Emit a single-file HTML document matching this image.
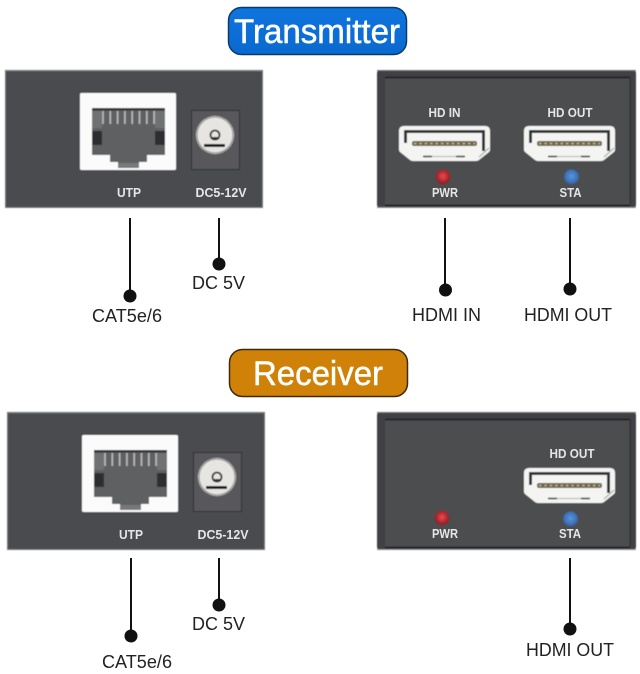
<!DOCTYPE html>
<html lang="en">
<head>
<meta charset="utf-8">
<title>Transmitter and Receiver</title>
<style>
html,body{margin:0;padding:0;background:#fff;width:640px;height:674px;overflow:hidden}
svg{display:block}
text{font-family:"Liberation Sans",sans-serif}
.lab{font-size:18px;fill:#222}
.sm{font-size:12.500px;font-weight:bold;fill:#e6e6e6;text-anchor:middle}
.ln{stroke:#111;stroke-width:2}
.pt{stroke:#fff;stroke-width:.5}
</style>
</head>
<body>
<svg width="640" height="674" viewBox="0 0 640 674" xmlns="http://www.w3.org/2000/svg">
<defs>
<filter id="soft" x="-2%" y="-2%" width="104%" height="104%"><feGaussianBlur stdDeviation=".45"/></filter>
<linearGradient id="pill1" x1="0" y1="0" x2="0" y2="1"><stop offset="0" stop-color="#0f75de"/><stop offset="1" stop-color="#0a69cf"/></linearGradient>
<radialGradient id="red" cx=".5" cy=".45" r=".6"><stop offset="0" stop-color="#e05058"/><stop offset=".6" stop-color="#b3262c"/><stop offset="1" stop-color="#5d2a2c"/></radialGradient>
<radialGradient id="blue" cx=".5" cy=".45" r=".6"><stop offset="0" stop-color="#5b95dc"/><stop offset=".7" stop-color="#3a70b8"/><stop offset="1" stop-color="#3a5068"/></radialGradient>

<g id="hdmi">
  <path d="M5 0H86Q91 0 91 5V24Q91 25 90 26L80 34Q79 35 77 35H14Q12 35 11 34L1 26Q0 25 0 24V5Q0 0 5 0Z" fill="#f4f4f2"/>
  <path d="M5 4H86V25H83V7H8V17H5Z" fill="#2f3032"/>
  <rect x="13" y="15" width="65" height="5" rx="2" fill="#6d6650"/>
  <path d="M15 17.500H76" stroke="#c9bd94" stroke-width="1.400" stroke-dasharray="2.400 3"/>
  <path d="M24 30.500H33M57 30.500H66" stroke="#333" stroke-width="1.500"/>
  <path d="M33 30.500H57" stroke="#999" stroke-width=".7"/>
  <path d="M80 31L90 22" stroke="#9a9a9a" stroke-width="1"/>
</g>

<g id="front">
  <rect x="5" y="70" width="258" height="138" rx="1.500" fill="#4a4c4f"/>
  <path d="M5 70.500H263" stroke="#85888b" stroke-width="1.200"/>
  <path d="M5.500 70V208M262.500 70V208M5 207.500H263" stroke="#777a7d" stroke-width="1"/>
  <rect x="80" y="93" width="96" height="77" rx="1.500" fill="#fbfbfb"/>
  <path d="M92 108H165V155H147V162H139V168H118V162H110V155H92Z" fill="#5f6062"/>
  <path d="M92 108H165V110.500H92Z" fill="#333436"/>
  <path d="M92 111H102V128H92Z M155 111H165V128H155Z" fill="#707173"/>
  <path d="M103 111V124M110.300 111V124M117.600 111V124M124.900 111V124M132.200 111V124M139.500 111V124M146.800 111V124M154.100 111V124" stroke="#b9b9b9" stroke-width="1.700"/>
  <path d="M92 131H102V145H92Z M155 131H165V145H155Z" fill="#2d2e30"/>
  <rect x="118" y="163" width="21" height="5" fill="#77787a"/>
  <rect x="191" y="110" width="49" height="60" fill="#59595b"/>
  <path d="M191 110.500H240M239.500 110V170M191 169.500H240M191.500 110V170" stroke="#2d2e30" stroke-width="1"/>
  <circle cx="215" cy="135" r="19" fill="#e6e5e2"/>
  <circle cx="215" cy="135" r="18" fill="none" stroke="#88888a" stroke-width="1"/>
  <circle cx="215" cy="135" r="4.500" fill="none" stroke="#333" stroke-width="1.800"/>
  <rect x="211" y="137" width="8" height="2.500" fill="#333"/>
  <rect x="204" y="144" width="21" height="3" fill="#1c1c1c"/>
</g>

<g id="back">
  <rect x="377" y="70" width="259" height="138" rx="3" fill="#3f4144"/>
  <rect x="385" y="77" width="245" height="128" fill="#4b4d50"/>
  <path d="M385 77.500H630" stroke="#1d1e20" stroke-width="1.500"/>
  <path d="M385 205.500H630" stroke="#1d1e20" stroke-width="1.500"/>
  <path d="M630 77V205" stroke="#2a2b2d" stroke-width="1"/>
  <path d="M377 207.500H636" stroke="#8a8c8e" stroke-width="1"/>
  <path d="M377 70.500H636" stroke="#717376" stroke-width="1"/>
</g>
</defs>

<rect width="640" height="674" fill="#fff"/>

<!-- Transmitter -->
<rect x="228.500" y="7.500" width="178" height="47" rx="13" fill="url(#pill1)" stroke="#0d3a6b" stroke-width="1.500"/>
<text class="pt" x="234" y="43" font-size="34" fill="#fff" textLength="166" lengthAdjust="spacingAndGlyphs">Transmitter</text>

<g filter="url(#soft)">
<use href="#front"/>
<use href="#back"/>
<use href="#hdmi" x="399" y="126"/>
<use href="#hdmi" x="524" y="126"/>
<circle cx="443" cy="177" r="7.500" fill="url(#red)"/>
<circle cx="571.500" cy="177" r="7.500" fill="url(#blue)"/>
</g>
<text class="sm" x="129" y="197" textLength="24" lengthAdjust="spacingAndGlyphs">UTP</text>
<text class="sm" x="221" y="197" textLength="51" lengthAdjust="spacingAndGlyphs">DC5-12V</text>
<text class="sm" x="444.500" y="117" textLength="32" lengthAdjust="spacingAndGlyphs">HD IN</text>
<text class="sm" x="570" y="117" textLength="45" lengthAdjust="spacingAndGlyphs">HD OUT</text>
<text class="sm" x="445" y="197" textLength="26" lengthAdjust="spacingAndGlyphs">PWR</text>
<text class="sm" x="570.500" y="197" textLength="22" lengthAdjust="spacingAndGlyphs">STA</text>

<path class="ln" d="M130 218V296M219 218V264M445 218V290M570 218V289"/>
<circle cx="130" cy="296" r="6.500" fill="#111"/>
<circle cx="219" cy="264" r="6.500" fill="#111"/>
<circle cx="445.500" cy="290" r="6.500" fill="#111"/>
<circle cx="570" cy="289" r="6.500" fill="#111"/>
<text class="lab" x="92" y="322" textLength="70" lengthAdjust="spacingAndGlyphs">CAT5e/6</text>
<text class="lab" x="192" y="289" textLength="53" lengthAdjust="spacingAndGlyphs">DC 5V</text>
<text class="lab" x="412" y="321" textLength="69" lengthAdjust="spacingAndGlyphs">HDMI IN</text>
<text class="lab" x="524" y="321" textLength="88" lengthAdjust="spacingAndGlyphs">HDMI OUT</text>

<!-- Receiver -->
<rect x="229.500" y="349.500" width="178" height="47" rx="13" fill="#d08208" stroke="#3f2a0c" stroke-width="1.500"/>
<text class="pt" x="253" y="385" font-size="34" fill="#fff" textLength="130" lengthAdjust="spacingAndGlyphs">Receiver</text>

<g filter="url(#soft)">
<use href="#front" x="2" y="342"/>
<use href="#back" y="342"/>
<use href="#hdmi" x="524" y="468"/>
<circle cx="442" cy="518" r="7.500" fill="url(#red)"/>
<circle cx="570.500" cy="519" r="7.500" fill="url(#blue)"/>
</g>
<text class="sm" x="131" y="539" textLength="24" lengthAdjust="spacingAndGlyphs">UTP</text>
<text class="sm" x="223" y="539" textLength="51" lengthAdjust="spacingAndGlyphs">DC5-12V</text>
<text class="sm" x="572" y="458" textLength="45" lengthAdjust="spacingAndGlyphs">HD OUT</text>
<text class="sm" x="445" y="538" textLength="26" lengthAdjust="spacingAndGlyphs">PWR</text>
<text class="sm" x="570" y="538" textLength="22" lengthAdjust="spacingAndGlyphs">STA</text>

<path class="ln" d="M131 558V636M219 558V605M570 558V629"/>
<circle cx="131" cy="636" r="6.500" fill="#111"/>
<circle cx="219" cy="605" r="6.500" fill="#111"/>
<circle cx="570" cy="629" r="6.500" fill="#111"/>
<text class="lab" x="102" y="668" textLength="70" lengthAdjust="spacingAndGlyphs">CAT5e/6</text>
<text class="lab" x="192" y="630" textLength="53" lengthAdjust="spacingAndGlyphs">DC 5V</text>
<text class="lab" x="526" y="656" textLength="88" lengthAdjust="spacingAndGlyphs">HDMI OUT</text>
</svg>
</body>
</html>
